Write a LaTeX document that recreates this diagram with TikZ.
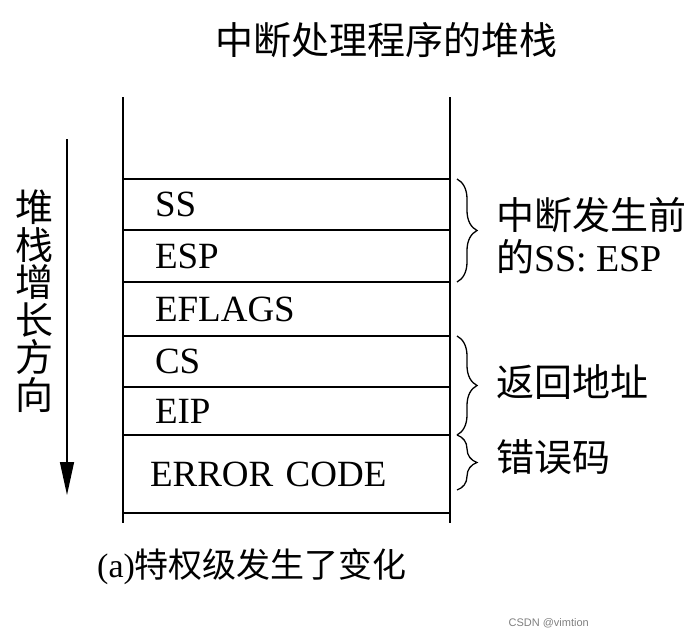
\documentclass[tikz,border=0pt]{standalone}
\usepackage{fontspec}
\setmainfont{Liberation Serif}
\newfontfamily\zhfont{Noto Sans CJK SC}
\newfontfamily\wmfont{Liberation Sans}
\usetikzlibrary{arrows.meta}
\usetikzlibrary{decorations.pathreplacing}
\usetikzlibrary{positioning}

\begin{document}
\begin{tikzpicture}[x=1pt,y=-1pt,
    cell/.style={draw, line width=1.4pt, rectangle, outer sep=0pt, inner ysep=0pt,
      inner xsep=32pt, text width=263pt, align=left, font=\fontsize{37}{37}\selectfont},
    side/.style={line width=1.6pt},
    grp/.style={decorate, decoration={brace, amplitude=20pt}, line width=1.3pt},
    zh/.style={inner sep=0pt, font=\zhfont\fontsize{38}{42}\selectfont}]
    		\fill[white] (0,0) rectangle (695,637);
    		\useasboundingbox (0,0) rectangle (695,637);
    		% stack sides
    		\draw[side] (123,97) -- (123,523);
    		\draw[side] (450,97) -- (450,523);
    		% stack rows
    		\node[cell, anchor=north west, minimum height=51pt] (ss) at (123,179) {SS};
    		\node[cell, below=0pt of ss, minimum height=52pt] (esp) {ESP};
    		\node[cell, below=0pt of esp, minimum height=54pt] (eflags) {EFLAGS};
    		\node[cell, below=0pt of eflags, minimum height=51pt] (cs) {CS};
    		\node[cell, below=0pt of cs, minimum height=48pt] (eip) {EIP};
    		\node[cell, below=0pt of eip, minimum height=78pt, inner xsep=27pt, text width=273pt] (err) {ERROR CODE};
    		% growth direction
    		\coordinate (gtop) at (67,139);
    		\coordinate (gbot) at (67,495);
    		\draw[line width=1.4pt, -{Triangle[length=33pt,width=14pt]}] (gtop) -- (gbot);
    		\node[zh, align=center, font=\zhfont\fontsize{38}{37.5}\selectfont] (dir) at (34,301) {堆\\栈\\增\\长\\方\\向};
    		% braces and notes
    		\draw[grp] ([xshift=7pt]ss.north east) -- ([xshift=7pt]esp.south east);
    		\draw[grp] ([xshift=7pt]cs.north east) -- ([xshift=7pt]eip.south east);
    		\draw[grp] ([xshift=7pt]err.north east) -- ([xshift=7pt,yshift=-55pt]err.north east);
    		\node[zh, anchor=west, align=left] (old) at (496,236) {中断发生前\\的{\rmfamily SS: ESP}};
    		\node[zh, anchor=west] (ret) at (496,382) {返回地址};
    		\node[zh, anchor=west] (code) at (496,457) {错误码};
    		% titles
    		\node[zh] (title) at (386,40) {中断处理程序的堆栈};
    		\node[zh, anchor=west, font=\zhfont\fontsize{34}{34}\selectfont] (cap) at (97,567) {{\rmfamily (a)}特权级发生了变化};
    		\node[anchor=east, inner sep=0pt, text=gray, font=\wmfont\fontsize{11}{11}\selectfont] (wm) at (589,623) {CSDN @vimtion};
    		\end{tikzpicture}
\end{document}
